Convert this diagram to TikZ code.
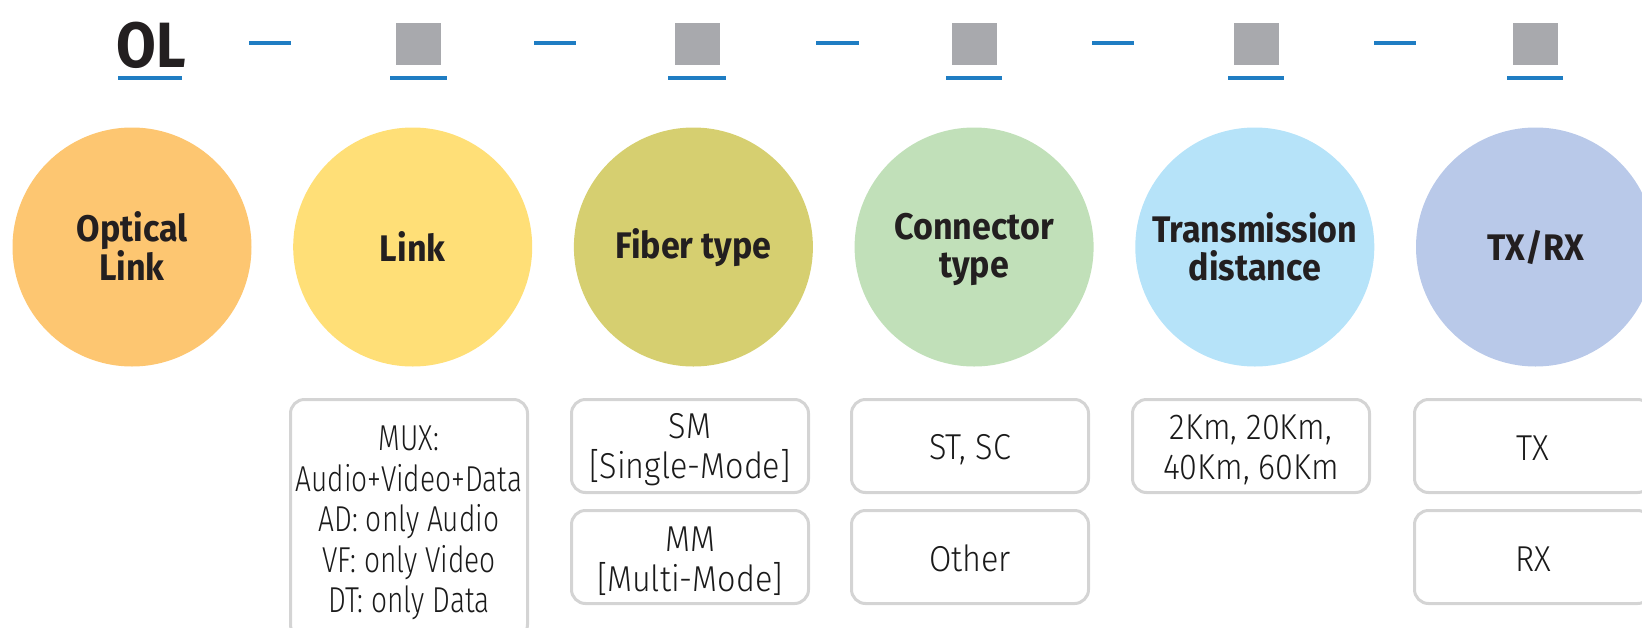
\documentclass[tikz,border=0pt]{standalone}
\usepackage{fontspec}
\setmainfont{Fira Sans}[FakeStretch=0.92]
\newfontfamily\boxfont{Fira Sans Light}[FakeStretch=0.9]
\newfontfamily\linkfont{Fira Sans Light}[FakeStretch=0.78]
\newfontfamily\olfont{Fira Sans}[FakeStretch=0.9]
\definecolor{cOL}{HTML}{FDC671}
\definecolor{cLink}{HTML}{FFDF77}
\definecolor{cFiber}{HTML}{D6CF70}
\definecolor{cConn}{HTML}{C1E0B9}
\definecolor{cDist}{HTML}{B6E3F9}
\definecolor{cTR}{HTML}{B9C9E9}
\definecolor{sqgray}{HTML}{A8A9AD}
\definecolor{ulblue}{HTML}{1F7DC3}
\definecolor{boxgray}{HTML}{D4D4D4}
\definecolor{txt}{HTML}{231F20}
\definecolor{btxt}{HTML}{1A1A1A}
% struts giving every line the same height and depth
\newcommand\bs{\rule[-3.2pt]{0pt}{36pt}}
\newcommand\cs{\rule[-2.5pt]{0pt}{33pt}}
\begin{document}
\begin{tikzpicture}[x=1pt,y=-1pt,
  circ/.style={circle, minimum size=239pt, inner sep=0pt, align=center,
    font=\bfseries\fontsize{37}{38}\selectfont, text=txt},
  optbox/.style={draw=boxgray, line width=3pt, rounded corners=14pt,
    minimum width=237pt, minimum height=93pt, inner sep=0pt, align=center,
    font=\boxfont\fontsize{36}{40.5}\selectfont, text=btxt},
  sq/.style={fill=sqgray, draw=none, minimum width=45pt, minimum height=42pt, inner sep=0pt},
  ul/.style={draw=ulblue, line width=3.5pt}
]
\useasboundingbox (0,0) rectangle (1642,627);
\clip (0,0) rectangle (1642,627);

% top row
\node[font=\olfont\bfseries\fontsize{64}{64}\selectfont, text=txt, anchor=base, inner sep=0pt] (ol) at (151,67) {OL};
\node[sq] (s1) at (418,44) {};
\node[sq] (s2) at (697.5,44) {};
\node[sq] (s3) at (974.5,44) {};
\node[sq] (s4) at (1256,44) {};
\node[sq] (s5) at (1535,44) {};

\draw[ul] (118,78) -- (182,78);
\draw[ul] (390,78) -- (447,78);
\draw[ul] (668,78) -- (726,78);
\draw[ul] (946,78) -- (1002,78);
\draw[ul] (1228,78) -- (1284,78);
\draw[ul] (1507,78) -- (1563,78);

\draw[ul] (249,43) -- (291,43);
\draw[ul] (534,43) -- (576,43);
\draw[ul] (816,43) -- (859,43);
\draw[ul] (1092,43) -- (1134,43);
\draw[ul] (1374,43) -- (1416,43);

% circles
\node[circ, fill=cOL] (c1) at (132,247) {\cs Optical\\\cs Link};
\node[circ, fill=cLink] (c2) at (412.7,247) {\cs Link};
\node[circ, fill=cFiber] (c3) at (693.4,247) {\cs Fiber type};
\node[circ, fill=cConn] (c4) at (974.1,247) {\cs Connector\\\cs type};
\node[circ, fill=cDist] (c5) at (1254.8,247) {\cs Transmission\\\cs distance};
\node[circ, fill=cTR] (c6) at (1535.5,247) {\cs TX/RX};

% boxes
\node[optbox, minimum height=239pt, font=\linkfont\fontsize{36}{40.5}\selectfont] (b2) at (409,519) {\bs MUX:\\\bs Audio+Video+Data\\\bs AD: only Audio\\\bs VF: only Video\\\bs DT: only Data};
\node[optbox] (b3a) at (690,446) {\bs SM\\\bs [Single-Mode]};
\node[optbox] (b3b) at (690,557) {\bs MM\\\bs [Multi-Mode]};
\node[optbox] (b4a) at (970,446) {\bs ST, SC};
\node[optbox] (b4b) at (970,557) {\bs Other};
\node[optbox] (b5a) at (1251,446) {\bs 2Km, 20Km,\\\bs 40Km, 60Km};
\node[optbox] (b6a) at (1533,446) {\bs TX};
\node[optbox] (b6b) at (1533,557) {\bs RX};
\end{tikzpicture}
\end{document}
